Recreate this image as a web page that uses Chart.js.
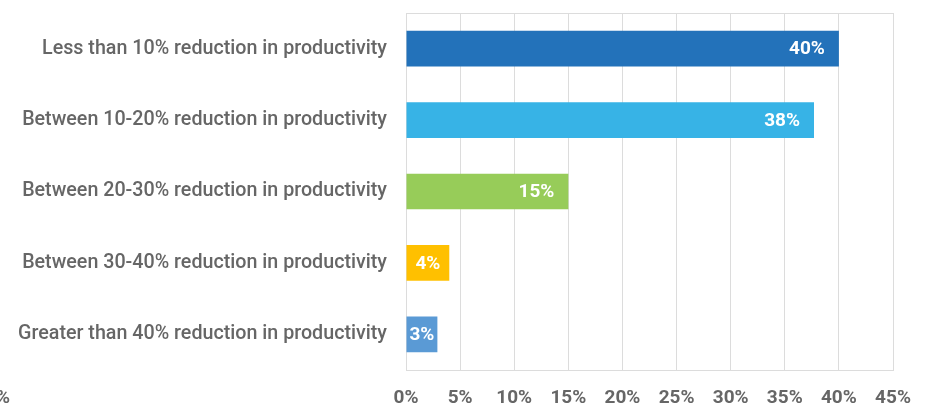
<!DOCTYPE html>
<html>
<head>
<meta charset="utf-8">
<script src="https://cdn.jsdelivr.net/npm/chart.js@4.4.1/dist/chart.umd.min.js"></script>
<style>
  html, body { margin: 0; padding: 0; background: #ffffff; }
  #wrap { width: 930px; height: 404px; position: relative; }
</style>
</head>
<body>
<div id="wrap"><canvas id="c" width="930" height="404"></canvas></div>
<script>
const categories = [
  "Less than 10% reduction in productivity",
  "Between 10-20% reduction in productivity",
  "Between 20-30% reduction in productivity",
  "Between 30-40% reduction in productivity",
  "Greater than 40% reduction in productivity"
];
const values = [40, 37.7, 15, 4, 2.9];
const barColors = ["#2372BA", "#37B3E6", "#97CC59", "#FFC000", "#5A9AD5"];
const xTickMin = 0;
const xTickMax = 45;
const xTickStep = 5;
const strayLabel = "%";

const GRID = "#dcdcdc";
const FONT = "Roboto, 'Noto Sans', sans-serif";

const boxPlugin = {
  id: 'boxPlugin',
  beforeDatasetsDraw(chart) {
    const a = chart.chartArea, ctx = chart.ctx;
    ctx.save();
    ctx.strokeStyle = GRID;
    ctx.lineWidth = 1;
    ctx.strokeRect(Math.round(a.left) + 0.5, Math.round(a.top) + 0.5,
                   Math.round(a.right - a.left), Math.round(a.bottom - a.top));
    ctx.restore();
  }
};

const labelPlugin = {
  id: 'labelPlugin',
  afterDatasetsDraw(chart) {
    const ctx = chart.ctx;
    const meta = chart.getDatasetMeta(0);
    ctx.save();
    ctx.font = "bold 19px " + FONT;
    ctx.fillStyle = "#ffffff";
    ctx.textBaseline = "middle";
    meta.data.forEach((bar, i) => {
      const txt = Math.round(values[i]) + "%";
      const w = ctx.measureText(txt).width;
      const left = bar.base, right = bar.x;
      const pad = 14;
      if (right - left < w + 2 * pad) {
        ctx.textAlign = "center";
        ctx.fillText(txt, (left + right) / 2, bar.y + 1);
      } else {
        ctx.textAlign = "right";
        ctx.fillText(txt, right - pad, bar.y + 1);
      }
    });
    ctx.font = "bold 19px " + FONT;
    ctx.fillStyle = "#666666";
    ctx.textAlign = "right";
    ctx.textBaseline = "alphabetic";
    ctx.fillText(strayLabel, 10, 403);
    ctx.restore();
  }
};

new Chart(document.getElementById('c'), {
  type: 'bar',
  data: {
    labels: categories,
    datasets: [{
      data: values,
      backgroundColor: barColors,
      borderWidth: 0,
      barPercentage: 0.5,
      categoryPercentage: 1.0
    }]
  },
  options: {
    indexAxis: 'y',
    responsive: false,
    animation: false,
    devicePixelRatio: 1,
    layout: { padding: { top: 13, right: 37, left: 0, bottom: 0 } },
    plugins: { legend: { display: false }, tooltip: { enabled: false } },
    scales: {
      x: {
        min: xTickMin,
        max: xTickMax,
        ticks: {
          stepSize: xTickStep,
          callback: v => v + '%',
          font: { family: FONT, size: 19, weight: 'bold' },
          color: '#666666',
          padding: 17,
          maxRotation: 0
        },
        grid: { color: GRID, drawTicks: false, lineWidth: 1 },
        border: { display: true, color: GRID },
        afterFit(scale) { scale.height = 34; scale.paddingLeft = 0; scale.paddingRight = 0; }
      },
      y: {
        ticks: {
          font: { family: FONT, size: 19.7, weight: '500' },
          color: '#666666',
          padding: 19
        },
        grid: { display: false, drawTicks: false },
        border: { display: true, color: GRID },
        afterFit(scale) { scale.width = 406; scale.paddingTop = 0; scale.paddingBottom = 0; }
      }
    }
  },
  plugins: [boxPlugin, labelPlugin]
});
</script>
</body>
</html>
